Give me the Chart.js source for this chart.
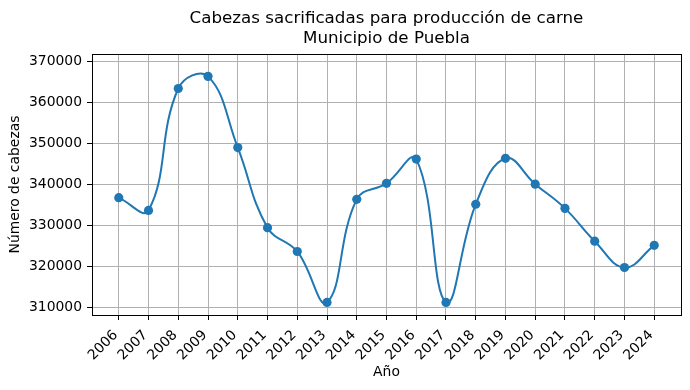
<!DOCTYPE html>
<html>
<head>
<meta charset="utf-8">
<script src="https://cdn.jsdelivr.net/npm/chart.js@4"></script>
<style>
  html, body { margin: 0; padding: 0; background: #fff; }
  #wrap { width: 690px; height: 390px; }
</style>
</head>
<body>
<div id="wrap"><canvas id="c" width="690" height="390"></canvas></div>
<script>
const years = [2006, 2007, 2008, 2009, 2010, 2011, 2012, 2013, 2014, 2015, 2016, 2017, 2018, 2019, 2020, 2021, 2022, 2023, 2024];
const heads = [336800, 333700, 363400, 366350, 349000, 329500, 323700, 311300, 336400, 340300, 346200, 311300, 335200, 346400, 340100, 334200, 326200, 319800, 325200];
const yTicks = [310000, 320000, 330000, 340000, 350000, 360000, 370000];
const titleLines = ['Cabezas sacrificadas para producción de carne', 'Municipio de Puebla'];
const xLabel = 'Año';
const yLabel = 'Número de cabezas';

const BLUE = '#1f77b4';
const FONT = "'DejaVu Sans', sans-serif";
Chart.defaults.color = '#000';
Chart.defaults.font.family = FONT;

const framePlugin = {
  id: 'frame',
  afterDraw(chart) {
    const a = chart.chartArea, ctx = chart.ctx;
    ctx.save();
    ctx.strokeStyle = '#000';
    ctx.lineWidth = 1;
    ctx.strokeRect(Math.round(a.left) + 0.5, Math.round(a.top) + 0.5, Math.round(a.right - a.left), Math.round(a.bottom - a.top));
    ctx.restore();
  }
};

new Chart(document.getElementById('c'), {
  type: 'line',
  data: {
    datasets: [{
      data: years.map((y, i) => ({x: y, y: heads[i]})),
      borderColor: BLUE,
      backgroundColor: BLUE,
      borderWidth: 2,
      tension: 0.42,
      pointRadius: 4.6,
      pointBorderWidth: 0,
      pointBackgroundColor: BLUE,
      fill: false
    }]
  },
  options: {
    responsive: false,
    animation: false,
    devicePixelRatio: 1,
    layout: { padding: { left: 0, right: 9, top: 0, bottom: 0 } },
    plugins: {
      legend: { display: false },
      tooltip: { enabled: false },
      title: {
        display: true,
        text: titleLines,
        fullSize: false,
        color: '#000',
        font: { family: FONT, size: 16.7, weight: 'normal', lineHeight: 1.2 },
        padding: { top: 9, bottom: 5 }
      }
    },
    scales: {
      x: {
        type: 'linear',
        min: 2005.1,
        max: 2024.9,
        afterFit(s) { s.height = 75; },
        afterBuildTicks(s) { s.ticks = years.map(v => ({value: v})); },
        ticks: {
          autoSkip: false,
          minRotation: 45,
          maxRotation: 45,
          padding: 7,
          labelOffset: -3,
          color: '#000',
          font: { family: FONT, size: 13.9 },
          callback: v => String(v)
        },
        grid: { color: '#b0b0b0', lineWidth: 1, tickLength: 5, tickColor: '#000', tickWidth: 1 },
        border: { display: true, color: '#000', width: 1 },
        title: { display: true, text: xLabel, color: '#000', font: { family: FONT, size: 13.9 }, padding: { top: 4, bottom: 9 } }
      },
      y: {
        type: 'linear',
        min: 308230,
        max: 371780,
        afterFit(s) { s.width = 92; },
        afterBuildTicks(s) { s.ticks = yTicks.map(v => ({value: v})); },
        ticks: {
          padding: 5,
          color: '#000',
          font: { family: FONT, size: 13.9 },
          callback: v => String(v)
        },
        grid: { color: '#b0b0b0', lineWidth: 1, tickLength: 5, tickColor: '#000', tickWidth: 1 },
        border: { display: true, color: '#000', width: 1 },
        title: { display: true, text: yLabel, color: '#000', font: { family: FONT, size: 13.9 }, padding: { top: 7, bottom: 0 } }
      }
    }
  },
  plugins: [framePlugin]
});
</script>
</body>
</html>
